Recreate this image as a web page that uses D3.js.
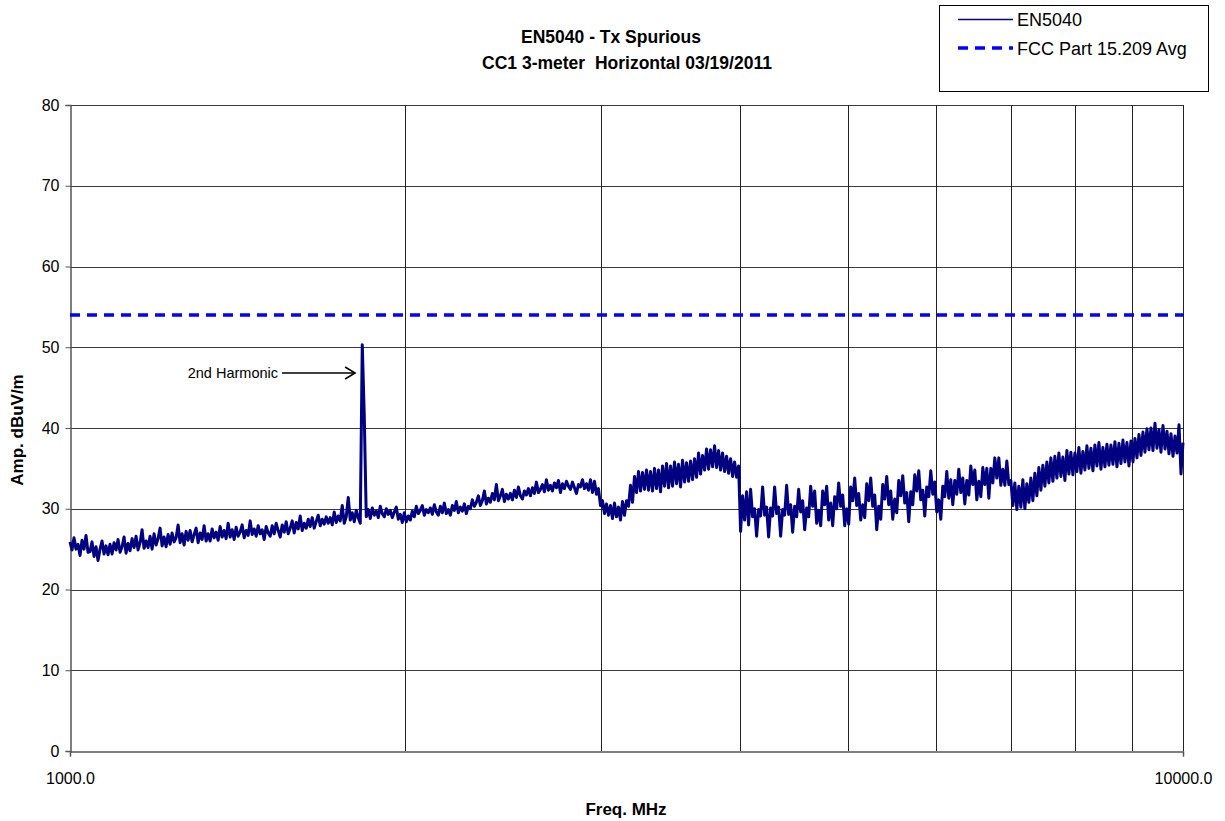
<!DOCTYPE html>
<html><head><meta charset="utf-8">
<script src="https://cdn.jsdelivr.net/npm/d3@7"></script>
<style>
html,body{margin:0;padding:0;background:#fff;}
text{font-family:"Liberation Sans",Arial,sans-serif;white-space:pre;}
</style></head>
<body><svg id="c" width="1225" height="821"></svg>
<script>
// ---- data ----
const titleLines = ["EN5040 - Tx Spurious", "CC1 3-meter  Horizontal 03/19/2011"];
const seriesNames = ["EN5040", "FCC Part 15.209 Avg"];
const yTicks = [0, 10, 20, 30, 40, 50, 60, 70, 80];
const xTickLabels = [1000, 10000];
const xGridFreqs = [2000, 3000, 4000, 5000, 6000, 7000, 8000, 9000, 10000];
const limitLevel = 54;          // FCC Part 15.209 average limit, dBuV/m
const sweepStart = 1000, sweepStop = 10000; // MHz, log sweep points
const harmonicFreq = 1830, harmonicLabel = "2nd Harmonic";
const amps = [
25.9,24.9,26.4,25.0,25.6,24.2,26.1,25.0,26.7,24.6,
24.7,25.9,24.1,25.3,23.6,25.0,26.0,24.4,25.4,24.3,
25.6,24.4,25.8,24.9,26.2,24.6,25.3,26.5,24.5,25.7,
24.8,26.3,25.2,26.6,24.9,25.8,27.4,25.1,26.0,25.2,
26.6,25.0,26.9,25.5,26.3,27.6,25.4,26.5,25.3,26.8,
25.6,27.0,25.9,26.4,28.0,25.8,26.9,25.5,27.2,26.1,
27.3,25.9,26.8,27.6,25.8,27.0,26.2,27.9,26.0,26.9,
26.0,27.5,26.4,27.1,26.1,27.8,26.5,27.3,26.3,28.2,
26.5,27.4,26.2,27.7,26.6,27.1,28.0,26.4,27.3,26.7,
28.5,26.8,27.5,26.6,27.9,26.9,27.4,26.2,27.8,27.0,
26.6,27.9,26.9,28.2,27.3,26.5,28.0,27.1,28.4,26.9,
27.6,28.5,27.0,28.3,27.5,29.1,27.3,28.2,27.6,28.7,
27.8,28.9,27.6,28.4,29.2,27.9,28.7,28.1,29.0,28.2,
28.9,28.0,29.6,28.3,29.1,28.5,30.4,28.2,29.0,31.4,
28.6,29.5,28.4,29.8,28.9,28.2,50.3,41.5,29.0,29.9,
28.8,30.1,29.2,29.7,28.9,30.3,29.4,29.0,30.0,29.3,
29.8,28.9,29.6,30.2,28.7,29.3,28.3,29.5,28.4,29.1,
28.6,29.7,29.0,30.3,29.4,29.8,30.4,29.2,29.9,29.5,
30.1,29.3,30.5,29.6,29.2,30.3,29.5,30.7,29.4,29.9,
29.2,30.4,29.8,30.9,29.5,30.2,29.7,30.6,29.4,30.3,
30.0,31.1,30.3,30.8,31.6,30.4,31.0,32.2,30.6,31.3,
30.8,31.9,31.1,33.0,31.0,31.6,32.4,30.9,31.8,31.2,
31.9,31.1,32.3,31.4,32.7,31.6,31.2,32.2,31.7,32.5,
31.6,32.6,31.9,33.3,32.0,32.4,33.0,32.1,33.6,32.3,
32.9,32.2,33.2,32.6,33.5,32.0,33.1,32.5,33.4,32.8,
32.4,33.3,32.6,31.9,33.0,32.7,33.6,32.5,33.1,32.3,
33.6,32.0,33.4,31.8,32.5,30.4,31.0,29.4,30.6,29.2,
30.4,28.8,30.7,29.0,30.2,28.6,30.9,29.2,31.0,30.3,
32.9,30.8,34.0,32.0,34.6,32.2,34.5,32.4,34.8,32.3,
34.6,32.2,35.0,32.5,34.8,32.1,35.3,32.8,35.6,32.6,
35.3,32.8,35.8,33.1,35.5,32.7,36.0,33.3,35.7,33.4,
35.9,33.6,36.2,33.9,36.9,34.3,36.6,34.8,37.4,34.9,
37.3,35.2,37.8,35.1,37.2,34.8,36.9,34.6,36.5,34.4,
36.2,34.0,35.8,33.9,35.3,27.2,31.6,28.6,32.1,28.0,
32.4,29.0,30.0,26.6,29.9,29.1,32.7,29.2,30.2,26.5,
30.1,29.1,32.7,29.4,30.2,26.6,29.9,29.2,32.9,29.3,
30.5,27.1,30.3,29.0,32.4,29.6,31.0,27.4,30.1,29.0,
32.8,30.3,32.2,28.2,29.8,27.9,32.2,30.5,32.8,28.6,
30.7,27.9,31.5,30.0,33.2,30.3,31.7,27.9,30.0,28.1,
32.7,31.0,33.8,30.4,31.9,28.6,30.5,28.9,33.1,31.0,
33.8,30.3,31.7,27.4,30.3,28.7,33.0,31.2,34.0,30.5,
32.2,28.7,31.2,29.5,33.5,31.6,34.1,30.7,32.0,28.4,
32.1,30.5,34.2,32.2,34.7,31.1,32.3,29.1,32.7,31.5,
34.7,31.8,33.3,29.6,31.1,28.7,32.8,31.5,34.6,31.3,
33.6,30.5,33.5,31.8,34.9,32.0,33.8,30.6,33.5,31.7,
35.3,33.0,34.8,31.1,33.4,31.5,35.1,33.0,35.0,31.3,
35.0,33.2,36.3,33.8,36.3,32.9,34.9,32.9,35.9,33.0,
33.5,30.4,33.2,29.9,32.8,30.2,33.6,30.0,33.1,30.8,
33.8,31.0,34.4,31.6,35.1,32.3,35.4,32.8,35.8,33.2,
36.3,33.4,36.5,33.8,36.9,34.0,36.4,33.5,37.2,34.3,
37.0,34.2,36.9,34.6,37.6,34.4,37.1,34.8,37.8,35.0,
37.5,34.7,37.9,35.3,38.2,34.9,37.6,35.2,38.0,35.4,
37.9,35.5,38.3,35.2,38.1,35.6,38.5,35.8,38.2,35.3,
38.4,35.8,38.7,36.3,39.2,36.6,39.5,37.0,39.9,37.3,
40.0,37.2,40.6,37.5,39.8,37.0,40.3,37.4,39.6,36.8,
39.3,36.5,39.0,36.9,40.4,34.3,38.2
];

// ---- drawing ----
const svg = d3.select("#c");
const L = 70, R = 1183, T = 105, B = 751;
const x = d3.scaleLog().domain([sweepStart, sweepStop]).range([L, R]);
const y = d3.scaleLinear().domain([0, 80]).range([B, T]);
const n = amps.length;
const freqs = amps.map((_, i) => sweepStart * Math.pow(sweepStop / sweepStart, i / (n - 1)));
const FONT = "'Liberation Sans', Arial, sans-serif";

// horizontal grid
svg.append("g").selectAll("line").data(yTicks.filter(d => d > 0)).join("line")
  .attr("x1", L).attr("x2", R)
  .attr("y1", d => Math.round(y(d)) + 0.5).attr("y2", d => Math.round(y(d)) + 0.5)
  .attr("stroke", "#3a3a3a").attr("stroke-width", 1);
// vertical grid
svg.append("g").selectAll("line").data(xGridFreqs).join("line")
  .attr("x1", d => Math.round(x(d)) + 0.5).attr("x2", d => Math.round(x(d)) + 0.5)
  .attr("y1", T).attr("y2", B)
  .attr("stroke", "#222").attr("stroke-width", 1);

// y axis
const yAxis = d3.axisLeft(y).tickValues(yTicks).tickSize(5).tickPadding(6).tickFormat(d3.format("d"));
const gy = svg.append("g").attr("transform", `translate(${L + 0.5},0)`).call(yAxis);
gy.select(".domain").attr("stroke", "#555").attr("stroke-width", 1.5);
gy.selectAll(".tick line").attr("stroke", "#555");
gy.selectAll(".tick text").attr("font-size", 16).attr("fill", "#000").style("font-family", FONT);

// x axis
const xAxis = d3.axisBottom(x).tickValues(xTickLabels).tickSize(5).tickPadding(16).tickFormat(d3.format(".1f"));
const gx = svg.append("g").attr("transform", `translate(0,${B + 0.5})`).call(xAxis);
gx.select(".domain").attr("stroke", "#555").attr("stroke-width", 1.5);
gx.selectAll(".tick line").attr("stroke", "#555");
gx.selectAll(".tick text").attr("font-size", 16).attr("fill", "#000").style("font-family", FONT);

// limit line
svg.append("line")
  .attr("x1", L).attr("x2", R).attr("y1", y(limitLevel)).attr("y2", y(limitLevel))
  .attr("stroke", "#0000ff").attr("stroke-width", 3.5).attr("stroke-dasharray", "10,7");

// trace
const line = d3.line().x((d, i) => x(freqs[i])).y(d => y(d));
svg.append("path").datum(amps).attr("d", line)
  .attr("fill", "none").attr("stroke", "#000080").attr("stroke-width", 3).attr("stroke-linejoin", "round");

// annotation
const ay = 373;
svg.append("text").attr("x", 278).attr("y", ay).attr("dy", "0.35em").attr("text-anchor", "end")
  .attr("font-size", 14.5).text(harmonicLabel);
const ax2 = x(harmonicFreq) - 7;
svg.append("line").attr("x1", 282).attr("x2", ax2).attr("y1", ay).attr("y2", ay)
  .attr("stroke", "#000").attr("stroke-width", 1.5);
svg.append("path").attr("d", `M${ax2 - 10},${ay - 6}L${ax2},${ay}L${ax2 - 10},${ay + 6}`)
  .attr("fill", "none").attr("stroke", "#000").attr("stroke-width", 1.5);

// titles
svg.append("text").attr("x", 611).attr("y", 43).attr("text-anchor", "middle")
  .attr("font-size", 17.5).attr("font-weight", "bold").text(titleLines[0]);
svg.append("text").attr("x", 627).attr("y", 69).attr("text-anchor", "middle")
  .attr("font-size", 17.5).attr("font-weight", "bold").text(titleLines[1]);
svg.append("text").attr("x", 626).attr("y", 815).attr("text-anchor", "middle")
  .attr("font-size", 17).attr("font-weight", "bold").text("Freq. MHz");
svg.append("text").attr("transform", "translate(23,430) rotate(-90)").attr("text-anchor", "middle")
  .attr("font-size", 17).attr("font-weight", "bold").text("Amp. dBuV/m");

// legend
svg.append("rect").attr("x", 939.5).attr("y", 5.5).attr("width", 269).attr("height", 86)
  .attr("fill", "#fff").attr("stroke", "#000").attr("stroke-width", 1);
svg.append("line").attr("x1", 958).attr("x2", 1013).attr("y1", 19.5).attr("y2", 19.5)
  .attr("stroke", "#000080").attr("stroke-width", 1.5);
svg.append("text").attr("x", 1017).attr("y", 20).attr("dy", "0.35em").attr("font-size", 18).text(seriesNames[0]);
svg.append("line").attr("x1", 958).attr("x2", 1013).attr("y1", 48).attr("y2", 48)
  .attr("stroke", "#0000ff").attr("stroke-width", 3.5).attr("stroke-dasharray", "10,7");
svg.append("text").attr("x", 1017).attr("y", 49).attr("dy", "0.35em").attr("font-size", 18).text(seriesNames[1]);
</script></body></html>
